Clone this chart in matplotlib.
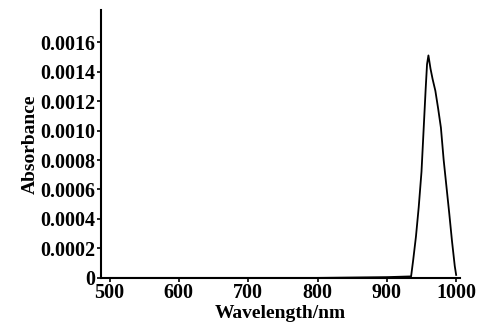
import matplotlib
matplotlib.use("Agg")
import matplotlib.pyplot as plt

# absorbance spectrum
wavelength = [500, 600, 700, 800, 900, 935, 938, 942, 946, 950, 953, 956, 958, 960, 963, 966, 970, 974, 978, 982, 986, 990, 994, 998, 1000]
absorbance = [0.0, 0.0, 0.0, 0.0, 0.000005, 0.00001, 0.00012, 0.00028, 0.00048, 0.00072, 0.00100, 0.00128, 0.00145, 0.00151, 0.00142, 0.00135, 0.00127, 0.00115, 0.00102, 0.00080, 0.00062, 0.00044, 0.00025, 0.00008, 0.00002]

xticks = [500, 600, 700, 800, 900, 1000]
yticks = [0, 0.0002, 0.0004, 0.0006, 0.0008, 0.0010, 0.0012, 0.0014, 0.0016]
ytick_labels = ["0", "0.0002", "0.0004", "0.0006", "0.0008", "0.0010", "0.0012", "0.0014", "0.0016"]

plt.rcParams["font.family"] = "Liberation Serif"
plt.rcParams["font.weight"] = "bold"

fig = plt.figure(figsize=(4.82, 3.25), dpi=100)
ax = fig.add_axes([0.21, 0.145, 0.745, 0.825])

ax.plot(wavelength, absorbance, color="black", linewidth=1.3)

ax.set_xlim(488, 1006)
ax.set_ylim(0, 0.00182)
ax.set_xticks(xticks)
ax.set_yticks(yticks)
ax.set_yticklabels(ytick_labels)
ax.tick_params(labelsize=14.5, length=3, width=1.2, pad=1)

for side in ["top", "right"]:
    ax.spines[side].set_visible(False)
for side in ["left", "bottom"]:
    ax.spines[side].set_linewidth(1.5)

ax.set_xlabel("Wavelength/nm", fontsize=14, fontweight="bold", labelpad=1)
ax.set_ylabel("Absorbance", fontsize=14, fontweight="bold", labelpad=1)

fig.savefig("out.png", dpi=100)
